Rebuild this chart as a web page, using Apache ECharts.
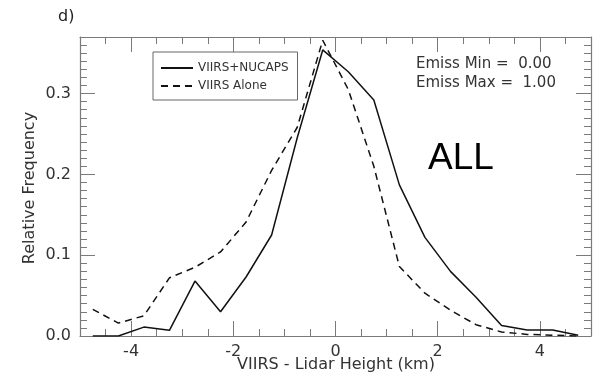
<!DOCTYPE html>
<html>
<head>
<meta charset="utf-8">
<script src="https://cdn.jsdelivr.net/npm/echarts@6/dist/echarts.min.js"></script>
<style>
  html, body { margin: 0; padding: 0; background: #fff; }
  #chart { width: 596px; height: 374px; }
</style>
</head>
<body>
<div id="chart"></div>
<script>
// bin centres (km)
const xBins = [-4.75, -4.25, -3.75, -3.25, -2.75, -2.25, -1.75, -1.25, -0.75, -0.25,
  0.25, 0.75, 1.25, 1.75, 2.25, 2.75, 3.25, 3.75, 4.25, 4.75]
const viirsNucaps = [0, 0, 0.011, 0.007, 0.068, 0.030, 0.073, 0.125, 0.245, 0.354,
  0.327, 0.292, 0.187, 0.122, 0.080, 0.048, 0.013, 0.0075, 0.0075, 0.001]
const viirsAlone = [0.033, 0.016, 0.025, 0.072, 0.085, 0.104, 0.141, 0.205, 0.258, 0.366,
  0.305, 0.21, 0.086, 0.053, 0.032, 0.014, 0.005, 0.002, 0.001, 0]
const xMajor = [-4, -2, 0, 2, 4]
const yMajor = [0, 0.1, 0.2, 0.3]
const seriesNames = ['VIIRS+NUCAPS', 'VIIRS Alone']
const emissText = ['Emiss Min =  0.00', 'Emiss Max =  1.00']

const axisGray = '#7a7a7a'
const labelColor = '#333'
const font = 'DejaVu Sans'

const chart = echarts.init(document.getElementById('chart'), null, { renderer: 'canvas' })

function minorX(pos, showLabel) {
  return {
    type: 'value', position: pos, min: -5, max: 5, interval: 0.5,
    axisLine: { show: true, onZero: false, lineStyle: { color: axisGray, width: 1.2 } },
    axisTick: { show: true, inside: true, length: 7, lineStyle: { color: axisGray } },
    axisLabel: {
      show: showLabel, margin: 8, color: labelColor, fontFamily: font, fontSize: 16,
      formatter: v => (xMajor.indexOf(v) !== -1 ? String(v) : ''),
    },
    splitLine: { show: false },
  }
}
function majorX(pos) {
  return {
    type: 'value', position: pos, min: -5, max: 5,
    axisLine: { show: false, onZero: false },
    axisTick: { show: true, inside: true, length: 15, customValues: xMajor, lineStyle: { color: axisGray } },
    axisLabel: { show: false },
    splitLine: { show: false },
  }
}
function minorY(pos, showLabel) {
  return {
    type: 'value', position: pos, min: 0, max: 0.37, interval: 0.01,
    axisLine: { show: true, onZero: false, lineStyle: { color: axisGray, width: 1.2 } },
    axisTick: { show: true, inside: true, length: 7, lineStyle: { color: axisGray } },
    axisLabel: {
      show: showLabel, margin: 9, color: labelColor, fontFamily: font, fontSize: 16,
      customValues: yMajor, formatter: v => v.toFixed(1),
    },
    splitLine: { show: false },
  }
}
function majorY(pos) {
  return {
    type: 'value', position: pos, min: 0, max: 0.37,
    axisLine: { show: false, onZero: false },
    axisTick: { show: true, inside: true, length: 15, customValues: yMajor, lineStyle: { color: axisGray } },
    axisLabel: { show: false },
    splitLine: { show: false },
  }
}

chart.setOption({
  animation: false,
  grid: { left: 80, right: 5, top: 37, bottom: 38, containLabel: false },
  xAxis: [minorX('bottom', true), majorX('bottom'), minorX('top', false), majorX('top')],
  yAxis: [minorY('left', true), majorY('left'), minorY('right', false), majorY('right')],
  legend: {
    left: 153, top: 52, orient: 'vertical',
    borderColor: '#666', borderWidth: 1, borderRadius: 0,
    padding: [9, 9, 7, 7], itemGap: 4, itemWidth: 32, itemHeight: 14,
    itemStyle: { opacity: 0 },
    textStyle: { fontFamily: font, fontSize: 12, color: labelColor, lineHeight: 14 },
    data: seriesNames,
  },
  series: [
    {
      name: seriesNames[0], type: 'line', symbol: 'none',
      xAxisIndex: 0, yAxisIndex: 0,
      lineStyle: { color: '#111', width: 1.5, type: 'solid' },
      itemStyle: { color: '#111' },
      data: xBins.map((x, i) => [x, viirsNucaps[i]]),
    },
    {
      name: seriesNames[1], type: 'line', symbol: 'none',
      xAxisIndex: 0, yAxisIndex: 0,
      lineStyle: { color: '#111', width: 1.5, type: [7, 5] },
      itemStyle: { color: '#111' },
      data: xBins.map((x, i) => [x, viirsAlone[i]]),
    },
  ],
  graphic: [
    { type: 'text', left: 58, top: 9, style: { text: 'd)', font: '16px "DejaVu Sans"', fill: '#222' } },
    {
      type: 'text', x: 30, y: 188, rotation: Math.PI / 2,
      style: { text: 'Relative Frequency', font: '16px "DejaVu Sans"', fill: labelColor, align: 'center', verticalAlign: 'middle' },
    },
    {
      type: 'text', x: 336, y: 365,
      style: { text: 'VIIRS - Lidar Height (km)', font: '16px "DejaVu Sans"', fill: labelColor, align: 'center', verticalAlign: 'middle' },
    },
    { type: 'text', x: 416, y: 64, style: { text: emissText[0], font: '15px "DejaVu Sans"', fill: labelColor, verticalAlign: 'middle' } },
    { type: 'text', x: 416, y: 83, style: { text: emissText[1], font: '15px "DejaVu Sans"', fill: labelColor, verticalAlign: 'middle' } },
    { type: 'text', x: 428, y: 159, style: { text: 'ALL', font: '37px "Liberation Sans"', fill: '#000', verticalAlign: 'middle' } },
  ],
})
</script>
</body>
</html>
